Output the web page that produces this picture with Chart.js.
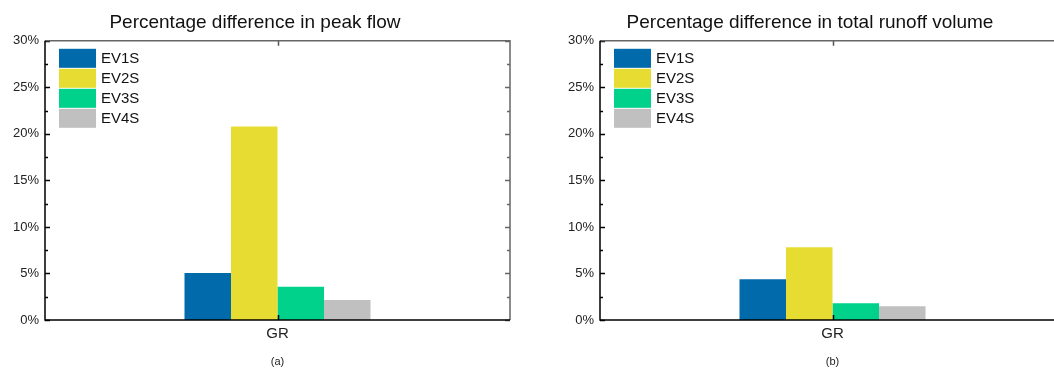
<!DOCTYPE html>
<html>
<head>
<meta charset="utf-8">
<script src="https://cdn.jsdelivr.net/npm/chart.js@4.4.1/dist/chart.umd.min.js"></script>
<style>
  html, body { margin: 0; padding: 0; background: #fff; overflow: hidden; }
  body { width: 1054px; height: 369px; position: relative; }
  .panel { position: absolute; top: 0; width: 555px; height: 369px; }
</style>
</head>
<body>
<div class="panel" style="left:0px"><canvas id="chartA"></canvas></div>
<div class="panel" style="left:555px"><canvas id="chartB"></canvas></div>
<script>
const categories = ["GR"];
const seriesNames = ["EV1S", "EV2S", "EV3S", "EV4S"];
const peakFlow = [5.05, 20.8, 3.58, 2.15];
const runoffVolume = [4.38, 7.82, 1.8, 1.47];
const yTicks = [0, 5, 10, 15, 20, 25, 30];
const colores = ["#006aaa", "#e6dc32", "#00d28c", "#c0c0c0"];

const fuente = "'Liberation Sans', Arial, sans-serif";

// marco, ticks hacia adentro y leyenda dentro del area
const marcoPlugin = {
  id: "marco",
  afterDraw(chart) {
    const { ctx, chartArea: a, scales } = chart;
    const y = scales.y;
    const x = scales.x;
    ctx.save();
    ctx.lineWidth = 1.5;

    // ticks eje y (mayores y menores)
    const paso = yTicks[1] - yTicks[0];
    for (let v = yTicks[0]; v <= yTicks[yTicks.length - 1]; v += paso / 2) {
      const py = Math.round(y.getPixelForValue(v)) + 0.5;
      const largo = v % paso === 0 ? 5 : 3;
      ctx.strokeStyle = "#000";
      ctx.beginPath();
      ctx.moveTo(a.left, py);
      ctx.lineTo(a.left + largo, py);
      ctx.stroke();
      ctx.strokeStyle = "#666";
      ctx.beginPath();
      ctx.moveTo(a.right, py);
      ctx.lineTo(a.right - largo, py);
      ctx.stroke();
    }
    // ticks eje x
    categories.forEach((c, i) => {
      const px = Math.round(x.getPixelForValue(i)) + 0.5;
      ctx.strokeStyle = "#000";
      ctx.beginPath();
      ctx.moveTo(px, a.bottom);
      ctx.lineTo(px, a.bottom - 5);
      ctx.stroke();
      ctx.strokeStyle = "#555";
      ctx.beginPath();
      ctx.moveTo(px, a.top);
      ctx.lineTo(px, a.top + 5);
      ctx.stroke();
    });

    // marco
    ctx.strokeStyle = "#666";
    ctx.beginPath();
    ctx.moveTo(a.left, a.top);
    ctx.lineTo(a.right, a.top);
    ctx.lineTo(a.right, a.bottom);
    ctx.stroke();
    ctx.strokeStyle = "#000";
    ctx.beginPath();
    ctx.moveTo(a.left, a.top);
    ctx.lineTo(a.left, a.bottom);
    ctx.lineTo(a.right, a.bottom);
    ctx.stroke();

    // leyenda
    ctx.font = "15px " + fuente;
    ctx.textBaseline = "middle";
    ctx.textAlign = "left";
    chart.data.datasets.forEach((ds, i) => {
      const bx = a.left + 14;
      const by = a.top + 8 + i * 20;
      ctx.fillStyle = ds.backgroundColor;
      ctx.fillRect(bx, by, 37, 19);
      ctx.fillStyle = "#111";
      ctx.fillText(ds.label, bx + 42, by + 10);
    });
    ctx.restore();
  },
};

const crearGrafica = (id, titulo, leyendaEje, valores) => {
  return new Chart(document.getElementById(id), {
    type: "bar",
    data: {
      labels: categories,
      datasets: seriesNames.map((nombre, i) => ({
        label: nombre,
        data: [valores[i]],
        backgroundColor: colores[i],
        borderWidth: 0,
        categoryPercentage: 0.4,
        barPercentage: 1.0,
      })),
    },
    options: {
      responsive: true,
      maintainAspectRatio: false,
      animation: false,
      layout: { padding: { left: 0, right: 45, top: 0, bottom: 0 } },
      plugins: {
        legend: { display: false },
        tooltip: { enabled: false },
        title: {
          display: true,
          text: titulo,
          color: "#111",
          font: { family: fuente, size: 19, weight: "normal" },
          padding: { top: 11, bottom: 7 },
        },
      },
      scales: {
        x: {
          grid: { display: false, drawTicks: false },
          border: { display: false },
          afterFit: (escala) => {
            escala.height = 49;
          },
          ticks: {
            color: "#222",
            padding: 5,
            font: { family: fuente, size: 15 },
          },
          title: {
            display: true,
            text: leyendaEje,
            color: "#222",
            font: { family: fuente, size: 11 },
            padding: { top: 14, bottom: 0 },
          },
        },
        y: {
          min: yTicks[0],
          max: yTicks[yTicks.length - 1],
          grid: { display: false, drawTicks: false },
          border: { display: false },
          afterFit: (escala) => {
            escala.width = 45;
          },
          ticks: {
            stepSize: yTicks[1] - yTicks[0],
            padding: 6,
            color: "#222",
            font: { family: fuente, size: 13 },
            callback: (v) => v + "%",
          },
        },
      },
    },
    plugins: [marcoPlugin],
  });
};

crearGrafica("chartA", "Percentage difference in peak flow", "(a)", peakFlow);
crearGrafica("chartB", "Percentage difference in total runoff volume", "(b)", runoffVolume);
</script>
</body>
</html>
